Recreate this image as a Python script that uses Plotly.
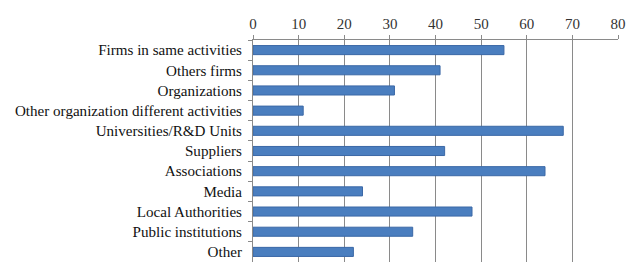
import plotly.graph_objects as go

categories = ["Firms in same activities", "Others firms", "Organizations",
              "Other organization different activities", "Universities/R&D Units",
              "Suppliers", "Associations", "Media", "Local Authorities",
              "Public institutions", "Other"]
values = [55, 41, 31, 11, 68, 42, 64, 24, 48, 35, 22]
x_ticks = [0, 10, 20, 30, 40, 50, 60, 70, 80]

FONT = "Liberation Serif, Times New Roman, DejaVu Serif, serif"

fig = go.Figure()
fig.add_trace(go.Bar(
    x=values, y=categories, orientation="h",
    marker=dict(color="#4a7ebf", line=dict(color="#3b68a6", width=1)),
    width=0.45,
))
fig.update_layout(
    width=639, height=268,
    margin=dict(l=245, r=29, t=32, b=14),
    paper_bgcolor="white", plot_bgcolor="white",
    font=dict(family=FONT, size=15, color="#222222"),
    showlegend=False,
)
fig.update_xaxes(
    side="top", range=[0, 80], tickvals=x_ticks,
    showgrid=True, gridcolor="#8a8a8a", gridwidth=1,
    showline=True, linecolor="#8a8a8a", linewidth=1,
    ticks="outside", ticklen=4, tickcolor="#8a8a8a",
    tickfont=dict(family=FONT, size=15, color="#333333"),
    zeroline=False, fixedrange=True, automargin=False,
)
fig.update_yaxes(
    categoryorder="array", categoryarray=categories, autorange="reversed",
    showline=True, linecolor="#8a8a8a", linewidth=1,
    ticks="outside", ticklen=4, tickcolor="#8a8a8a", ticklabelstandoff=7,
    tickson="boundaries",
    tickfont=dict(family=FONT, size=15.1, color="#111111"),
    fixedrange=True, automargin=False,
)
fig.write_html("out.html")
